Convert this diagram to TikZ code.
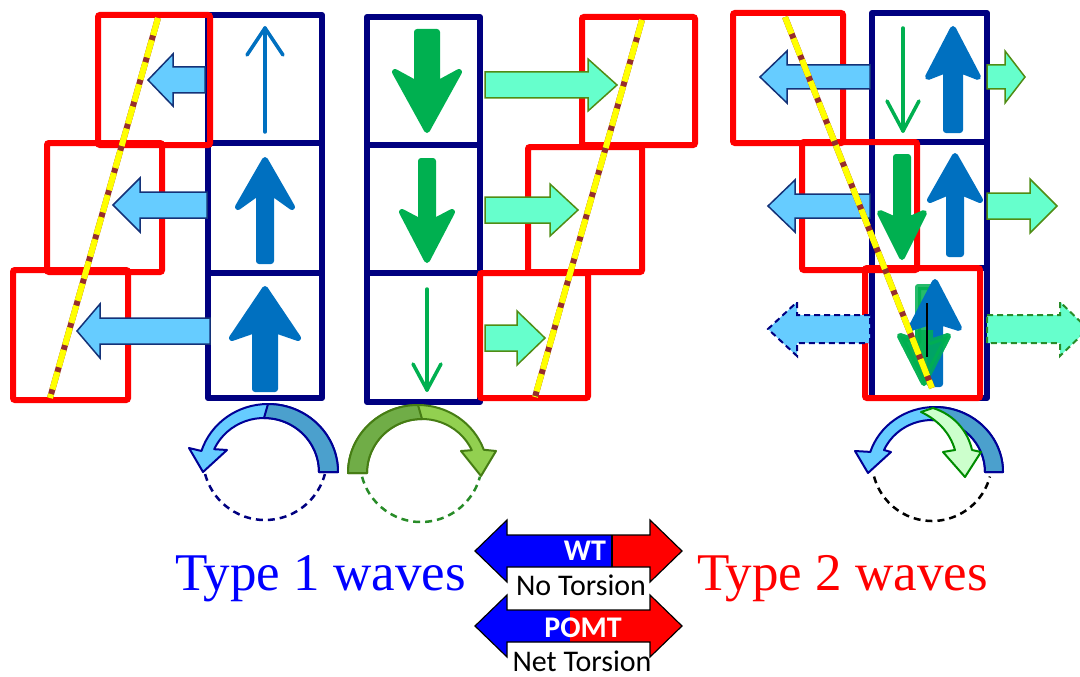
\documentclass[tikz,border=0pt]{standalone}
\usepackage{fontspec}
\newfontfamily\serifx{Liberation Serif}
\newfontfamily\calib{Carlito}
\usetikzlibrary{calc}
\definecolor{navyc}{RGB}{0,0,128}
\definecolor{redc}{RGB}{255,0,0}
\definecolor{lbfill}{RGB}{102,204,255}
\definecolor{lbdark}{RGB}{75,160,205}
\definecolor{lbline}{RGB}{20,50,120}
\definecolor{mintfill}{RGB}{102,255,204}
\definecolor{mintline}{RGB}{80,140,20}
\definecolor{blueA}{RGB}{0,112,192}
\definecolor{greenA}{RGB}{0,176,80}
\definecolor{brownc}{RGB}{150,45,45}
\definecolor{yelc}{RGB}{255,255,0}
\definecolor{gdark}{RGB}{112,173,71}
\definecolor{glight}{RGB}{146,208,80}
\definecolor{gline}{RGB}{70,125,20}
\definecolor{arcnavy}{RGB}{0,0,150}
\definecolor{paleg}{RGB}{204,255,204}
\definecolor{palegline}{RGB}{0,140,0}
\definecolor{dashg}{RGB}{40,140,40}
\definecolor{legblue}{RGB}{0,0,255}
\definecolor{legred}{RGB}{255,0,0}
\definecolor{typeblue}{RGB}{0,0,255}
\newcommand{\hblk}[7][]{\draw[#1] (#2,{#5-#6}) -- (#3,{#5-#6}) -- (#3,{#5-#7}) -- (#4,#5) -- (#3,{#5+#7}) -- (#3,{#5+#6}) -- (#2,{#5+#6}) -- cycle;}
\newcommand{\vblk}[8][]{\draw[#1] (#2,#3) -- ({#2+#8},#4) -- ({#2+#7},#5) -- ({#2+#7},#6) -- ({#2-#7},#6) -- ({#2-#7},#5) -- ({#2-#8},#4) -- cycle;}
\newcommand{\thinarr}[6][]{\draw[#1] (#2,#3) -- (#2,#4); \draw[#1] ({#2-#5},{#4+#6}) -- (#2,#4) -- ({#2+#5},{#4+#6});}
\newcommand{\legarrow}[1]{(475,#1) -- (507,{#1-31}) -- (507,{#1-16}) -- (650,{#1-16}) -- (650,{#1-31}) -- (682,#1) -- (650,{#1+31}) -- (650,{#1+16}) -- (507,{#1+16}) -- (507,{#1+31}) -- cycle}
\tikzset{
  navybox/.style={draw=navyc, line width=6pt, line join=round},
  redbox/.style={draw=redc, line width=6pt, rounded corners=2pt},
  lbarrow/.style={fill=lbfill, draw=lbline, line width=1.5pt, line join=miter},
  lbdashed/.style={lbarrow, draw=navyc, line width=2pt, dash pattern=on 6pt off 4pt},
  mintarrow/.style={fill=mintfill, draw=mintline, line width=1.5pt, line join=miter},
  mintdashed/.style={mintarrow, draw=dashg, line width=2pt, dash pattern=on 6pt off 4pt},
  bluethick/.style={fill=blueA, draw=blueA, line width=6pt, line join=round},
  greenthick/.style={fill=greenA, draw=greenA, line width=6pt, line join=round},
  thinblue/.style={draw=blueA, line width=3.5pt, line cap=round, line join=round},
  thingreen/.style={draw=greenA, line width=3.5pt, line cap=round, line join=round},
  yelunder/.style={draw=brownc, line width=6pt},
  yeldash/.style={draw=yelc, line width=6pt, dash pattern=on 18pt off 5pt},
  circdash/.style={line width=2.5pt, dash pattern=on 7pt off 5pt},
  arcline/.style={draw=arcnavy, line width=2pt, line join=round},
  garcline/.style={draw=gline, line width=2pt, line join=round},
}
\begin{document}
\begin{tikzpicture}[x=1pt,y=-1pt]
\useasboundingbox (0,0) rectangle (1080,677);
\clip (0,0) rectangle (1080,677);
\fill[white] (0,0) rectangle (1080,677);

% ---------------- left group (type 1, up) ----------------
\draw[navybox] (208,15) rectangle (322,398);
\draw[navybox] (208,143) -- (322,143) (208,273) -- (322,273);
\draw[redbox] (98,15) rectangle (210,145);
\draw[redbox] (47,143) rectangle (162,272);
\draw[redbox] (13,270) rectangle (128,400);
\hblk[lbarrow]{205}{173}{148}{80}{13}{26}
\hblk[lbarrow]{207}{140}{113}{205}{13}{27}
\hblk[lbarrow]{210}{100}{77}{331}{13}{27}
\thinarr[thinblue]{265}{132}{28}{18}{27}
\vblk[bluethick]{265}{160}{207}{192}{261}{6}{27}
\vblk[bluethick]{265}{289}{338}{330}{389}{10}{33}
\draw[yelunder] (158,18) -- (50,398);
\draw[yeldash] (158,18) -- (50,398);

% ---------------- middle group (type 1, down) ----------------
\draw[navybox] (367,17) rectangle (480,402);
\draw[navybox] (367,145) -- (480,145) (367,273) -- (480,273);
\draw[redbox] (582,17) rectangle (695,145);
\draw[redbox] (528,147) rectangle (642,272);
\draw[redbox] (480,273) rectangle (588,398);
\hblk[mintarrow]{485}{588}{617}{85}{13}{26}
\hblk[mintarrow]{485}{550}{578}{210}{13}{26}
\hblk[mintarrow]{485}{517}{545}{338}{13}{27}
\vblk[greenthick]{427}{130}{72}{84}{32}{10}{32}
\vblk[greenthick]{427}{260}{212}{222}{161}{6}{25}
\thinarr[thingreen]{427}{289}{390}{14}{-26}
\draw[yelunder] (642,20) -- (535,397);
\draw[yeldash] (642,20) -- (535,397);

% ---------------- right group (type 2) ----------------
\draw[navybox] (872,13) rectangle (987,398);
\draw[navybox] (872,142) -- (987,142) (872,268) -- (987,268);
\draw[redbox] (733,13) rectangle (843,143);
\draw[redbox] (802,142) rectangle (917,270);
\draw[redbox] (865,268) rectangle (980,398);
\hblk[lbarrow]{870}{787}{760}{77}{12}{26}
\hblk[lbarrow]{870}{795}{768}{206}{12}{26}
\hblk[lbdashed]{870}{797}{768}{329}{14}{27}
\hblk[mintarrow]{987}{1005}{1025}{77}{12}{26}
\hblk[mintarrow]{987}{1030}{1057}{206}{13}{27}
\hblk[mintdashed]{987}{1060}{1088}{329}{14}{27}
\thinarr[thingreen]{903}{28}{131}{16}{-30}
\vblk[bluethick]{953}{29}{77}{70}{130}{7}{25}
\vblk[greenthick]{902}{257}{213}{220}{157}{6}{22}
\vblk[bluethick]{955}{156}{200}{192}{254}{6}{25}
\vblk[greenthick, opacity=0.85]{924}{383}{336}{342}{287}{6}{24}
\vblk[bluethick]{935}{282}{328}{322}{384}{5}{24}
\begin{scope}
  \clip (880,330) rectangle (970,395);
  \vblk[greenthick, opacity=0.8]{924}{383}{336}{342}{287}{6}{24}
\end{scope}
\draw[black, line width=1.5pt] (927,303) -- (927,357);
\draw[yelunder] (785,17) -- (932,388);
\draw[yeldash] (785,17) -- (932,388);

% ---------------- rotation arrows ----------------
% type 1 up (blue)
\draw[navyc, circdash] ([shift={(265,458)}]195:62pt) arc[start angle=195, end angle=345, radius=62pt];
\path[fill=lbfill, arcline] ([shift={(268,472)}]0:70pt and 68pt) arc[start angle=0, end angle=162, x radius=70pt, y radius=68pt] -- (189,448) -- (203,472) -- (227,450) -- ([shift={(264,472)}]155:55pt and 54pt) arc[start angle=155, end angle=0, x radius=55pt, y radius=54pt] -- cycle;
\path[fill=lbdark, arcline] ([shift={(268,472)}]0:70pt and 68pt) arc[start angle=0, end angle=90, x radius=70pt, y radius=68pt] -- ([shift={(264,472)}]90:55pt and 54pt) arc[start angle=90, end angle=0, x radius=55pt, y radius=54pt] -- cycle;

% type 1 down (green)
\draw[dashg, circdash] ([shift={(421,461)}]195:61pt) arc[start angle=195, end angle=345, radius=61pt];
\path[fill=glight, garcline] ([shift={(418,473)}]180:70pt and 68pt) arc[start angle=180, end angle=20, x radius=70pt, y radius=68pt] -- (496,451) -- (481,476) -- (461,451) -- ([shift={(422,473)}]25:55pt and 54pt) arc[start angle=25, end angle=180, x radius=55pt, y radius=54pt] -- cycle;
\path[fill=gdark, garcline] ([shift={(418,473)}]180:70pt and 68pt) arc[start angle=180, end angle=90, x radius=70pt, y radius=68pt] -- ([shift={(422,473)}]90:55pt and 54pt) arc[start angle=90, end angle=180, x radius=55pt, y radius=54pt] -- cycle;

% type 2 (blue + pale green)
\draw[black, circdash] ([shift={(932,461)}]195:60pt) arc[start angle=195, end angle=345, radius=60pt];
\path[fill=lbfill, arcline] ([shift={(935,472)}]0:68pt and 65pt) arc[start angle=0, end angle=162, x radius=68pt, y radius=65pt] -- (855,451) -- (868,473) -- (891,452) -- ([shift={(932,472)}]155:53pt and 52pt) arc[start angle=155, end angle=0, x radius=53pt, y radius=52pt] -- cycle;
\path[fill=lbdark, arcline] ([shift={(935,472)}]0:68pt and 65pt) arc[start angle=0, end angle=90, x radius=68pt, y radius=65pt] -- ([shift={(932,472)}]90:53pt and 52pt) arc[start angle=90, end angle=0, x radius=53pt, y radius=52pt] -- cycle;
\path[fill=paleg, draw=palegline, line width=2pt, line join=round] (933,408) .. controls (955,415) and (968,432) .. (972,450) -- (981,452) -- (965,477) -- (943,452) -- (955,450) .. controls (950,433) and (938,420) .. (921,412) -- cycle;

% ---------------- legend ----------------
\begin{scope}
  \clip (470,500) rectangle (612,590);
  \fill[legblue] \legarrow{551};
\end{scope}
\begin{scope}
  \clip (612,500) rectangle (690,590);
  \fill[legred] \legarrow{551};
\end{scope}
\draw[black, line width=1.2pt] (612,535) -- (612,567);
\draw[black, line width=1.2pt, line join=miter] \legarrow{551};
\begin{scope}
  \clip (470,590) rectangle (570,665);
  \fill[legblue] \legarrow{626};
\end{scope}
\begin{scope}
  \clip (570,590) rectangle (690,665);
  \fill[legred] \legarrow{626};
\end{scope}
\draw[black, line width=1.2pt, line join=miter] \legarrow{626};

\node[font=\calib\bfseries\fontsize{30}{36}\selectfont, text=white, inner sep=0] (wt) at (585,551) {WT};
\node[font=\calib\bfseries\fontsize{30}{36}\selectfont, text=white, inner sep=0] (pomt) at (583,628) {POMT};
\node[font=\calib\fontsize{30}{34}\selectfont, anchor=base, inner sep=0] (notor) at (581,595) {No Torsion};
\node[font=\calib\fontsize{30}{34}\selectfont, anchor=base, inner sep=0] (nettor) at (582,671) {Net Torsion};

\node[font=\serifx\fontsize{53}{60}\selectfont, text=typeblue, anchor=base west, inner sep=0] (type1) at (175,590) {Type 1 waves};
\node[font=\serifx\fontsize{53}{60}\selectfont, text=redc, anchor=base west, inner sep=0] (type2) at (697,590) {Type 2 waves};
\end{tikzpicture}
\end{document}
